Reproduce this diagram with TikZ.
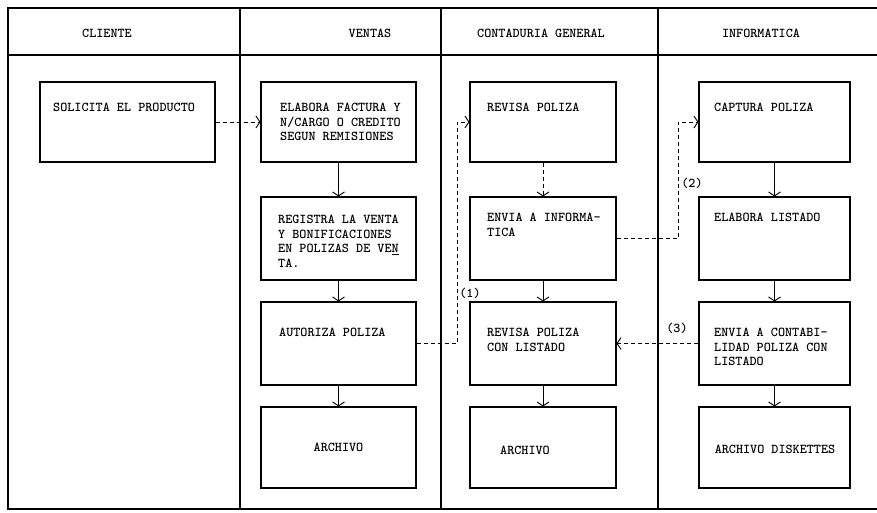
\documentclass[tikz,border=0pt]{standalone}
\usetikzlibrary{arrows.meta,positioning}

\begin{document}
\begin{tikzpicture}[
  x=1pt, y=-1pt,
  font=\ttfamily\bfseries\fontsize{13.5}{14.5}\selectfont,
  frame/.style={line width=1.1pt},
  box/.style={draw, line width=1.1pt, inner sep=0pt},
  txt/.style={inner sep=0pt, anchor=north west, align=left},
  head/.style={inner sep=0pt},
  line/.style={-{Straight Barb[length=4pt,width=12pt]}, line width=0.9pt},
  dline/.style={line, dash pattern=on 4pt off 3pt}
]
\useasboundingbox (0,0) rectangle (877,512);

% lanes
\draw[frame] (877,8) -- (8,8) -- (8,509) -- (877,509);
\draw[frame] (8,55) -- (877,55);
\draw[frame] (240,8) -- (240,509);
\draw[frame] (441,8) -- (441,509);
\draw[frame] (658,8) -- (658,509);

\node[head] (hcli) at (107,33) {CLIENTE};
\node[head] (hven) at (370,33) {VENTAS};
\node[head] (hcon) at (541,33) {CONTADURIA GENERAL};
\node[head] (hinf) at (761,33) {INFORMATICA};

% boxes
\node[box, minimum width=175pt, minimum height=80pt] (cli1) at (127.5,122) {};
\node[box, minimum width=155pt, minimum height=80pt] (ven1) at (338.5,122) {};
\node[box, minimum width=155pt, minimum height=83pt] (ven2) at (338.5,238.5) {};
\node[box, minimum width=155pt, minimum height=83pt] (ven3) at (338.5,343.5) {};
\node[box, minimum width=155pt, minimum height=81pt] (ven4) at (338.5,447.5) {ARCHIVO};
\node[box, minimum width=146pt, minimum height=80pt] (con1) at (543,122) {};
\node[box, minimum width=146pt, minimum height=83pt] (con2) at (543,238.5) {};
\node[box, minimum width=146pt, minimum height=83pt] (con3) at (543,343.5) {};
\node[box, minimum width=146pt, minimum height=81pt] (con4) at (543,447.5) {};
\node[box, minimum width=151pt, minimum height=80pt] (inf1) at (774.5,122) {};
\node[box, minimum width=151pt, minimum height=83pt] (inf2) at (774.5,238.5) {};
\node[box, minimum width=151pt, minimum height=83pt] (inf3) at (774.5,343.5) {};
\node[box, minimum width=151pt, minimum height=81pt] (inf4) at (774.5,447.5) {};

% box texts
\node[txt] (cli1t) at (53,103) {SOLICITA EL PRODUCTO};
\node[txt] (ven1t) at (280,103) {ELABORA FACTURA Y\\N/CARGO O CREDITO\\SEGUN REMISIONES};
\node[txt] (ven2t) at (278,215) {REGISTRA LA VENTA\\Y BONIFICACIONES\\EN POLIZAS DE VE\underline{N}\\TA.};
\node[txt] (ven3t) at (279,328) {AUTORIZA POLIZA};
\node[txt] (con1t) at (487,103) {REVISA POLIZA};
\node[txt] (con2t) at (487,213) {ENVIA A INFORMA-\\TICA};
\node[txt] (con3t) at (487,328) {REVISA POLIZA\\CON LISTADO};
\node[head] (con4t) at (525,450) {ARCHIVO};
\node[txt] (inf1t) at (714,103) {CAPTURA POLIZA};
\node[txt] (inf2t) at (714,213) {ELABORA LISTADO};
\node[txt] (inf3t) at (714,328) {ENVIA A CONTABI-\\LIDAD POLIZA CON\\LISTADO};
\node[head] (inf4t) at (775,449) {ARCHIVO DISKETTES};

% flow
\draw[dline] (cli1) -- (ven1);
\draw[line] (ven1) -- (ven2);
\draw[line] (ven2) -- (ven3);
\draw[line] (ven3) -- (ven4);
\draw[dline] (con1) -- (con2);
\draw[line] (con2) -- (con3);
\draw[line] (con3) -- (con4);
\draw[line] (inf1) -- (inf2);
\draw[line] (inf2) -- (inf3);
\draw[line] (inf3) -- (inf4);

\coordinate (k1) at (457,343.5);
\coordinate (k2) at (678,238.5);
\draw[dline] (ven3.east) -- (k1) |- (con1.west);
\draw[dline] (con2.east) -- (k2) |- (inf1.west);
\draw[dline] (inf3.west) -- (con3.east);

\node[head] (n1) at (470,293) {(1)};
\node[head] (n2) at (692,183) {(2)};
\node[head] (n3) at (677,328) {(3)};
\end{tikzpicture}
\end{document}
